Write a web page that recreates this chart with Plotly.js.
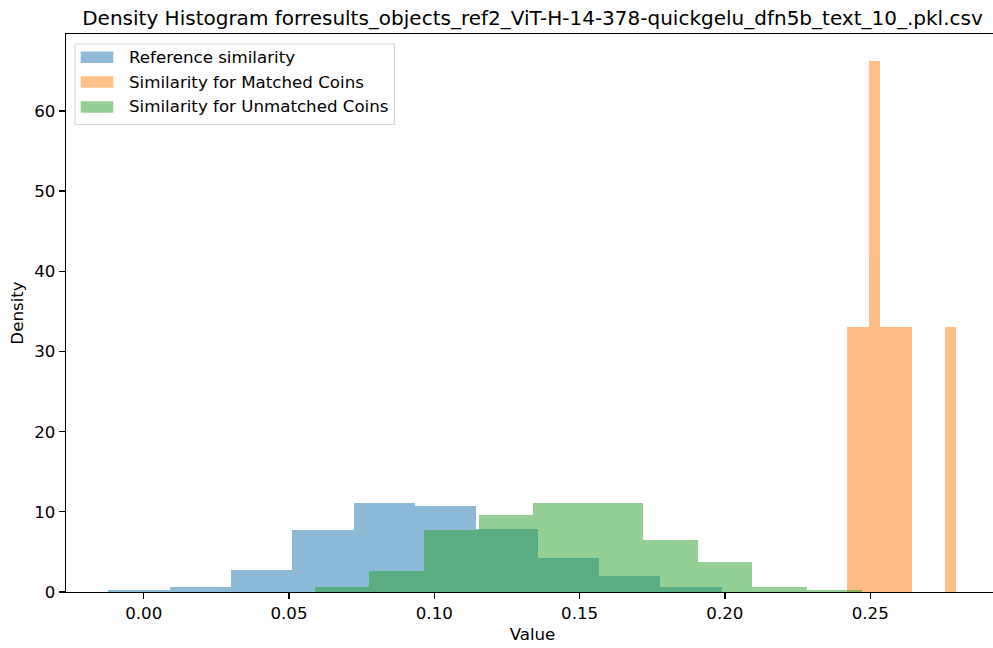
<!DOCTYPE html>
<html>
<head>
<meta charset="utf-8">
<script src="https://cdn.plot.ly/plotly-3.0.1.min.js"></script>
<style>html,body{margin:0;padding:0;background:#fff;overflow:hidden;}#chart{width:1000px;height:648px;}</style>
</head>
<body>
<div id="chart"></div>
<script>
// Bin edges (value axis) and densities
const refEdges = [-0.01218, 0.00893, 0.03004, 0.05115, 0.07225, 0.09336, 0.11447, 0.13557, 0.15668, 0.17779, 0.19890];
const refDensity = [0.25, 0.66, 2.75, 7.70, 11.15, 10.75, 7.85, 4.25, 2.02, 0.66];

const matchedEdges = [0.24191, 0.24568, 0.24945, 0.25323, 0.25700, 0.26077, 0.26454, 0.26831, 0.27209, 0.27586, 0.27963];
const matchedDensity = [33.1, 33.1, 66.2, 33.1, 33.1, 33.1, 0, 0, 0, 33.1];

const unmatchedEdges = [0.05884, 0.07766, 0.09649, 0.11531, 0.13413, 0.15296, 0.17178, 0.19060, 0.20943, 0.22825, 0.24707];
const unmatchedDensity = [0.66, 2.65, 7.70, 9.55, 11.15, 11.15, 6.50, 3.72, 0.66, 0.25];

const seriesNames = ["Reference similarity", "Similarity for Matched Coins", "Similarity for Unmatched Coins"];
const seriesColors = ["#1f77b4", "#ff7f0e", "#2ca02c"];
const xTickVals = [0, 0.05, 0.10, 0.15, 0.20, 0.25];
const xTickText = ["0.00", "0.05", "0.10", "0.15", "0.20", "0.25"];
const yTickVals = [0, 10, 20, 30, 40, 50, 60];

function histTrace(edges, dens, name, color) {
  const x = [], w = [];
  for (let i = 0; i < dens.length; i++) {
    x.push((edges[i] + edges[i + 1]) / 2);
    w.push(edges[i + 1] - edges[i]);
  }
  return {
    type: "bar", x: x, y: dens, width: w, name: name,
    marker: {color: color, line: {width: 0}}, opacity: 0.5,
    hoverinfo: "x+y", showlegend: false
  };
}

const data = [
  histTrace(refEdges, refDensity, seriesNames[0], seriesColors[0]),
  histTrace(matchedEdges, matchedDensity, seriesNames[1], seriesColors[1]),
  histTrace(unmatchedEdges, unmatchedDensity, seriesNames[2], seriesColors[2])
];

// plot area geometry in pixels (for legend placement)
const W = 1000, H = 648, ML = 66, MR = 1, MT = 34, MB = 56;
const PW = W - ML - MR, PH = H - MT - MB;
const px = v => (v - ML) / PW;
const py = v => (H - MB - v) / PH;

function hexToRgba(h, a) {
  const n = parseInt(h.slice(1), 16);
  return `rgba(${(n >> 16) & 255},${(n >> 8) & 255},${n & 255},${a})`;
}

const font = "DejaVu Sans, sans-serif";
const shapes = [{
  type: "rect", xref: "paper", yref: "paper",
  x0: px(75), x1: px(394.5), y0: py(44), y1: py(124.5),
  line: {color: "#d6d6d6", width: 1.2}, fillcolor: "rgba(255,255,255,0.8)", layer: "above"
}];
const annotations = [];
const rowY = [57.3, 82, 107];
seriesNames.forEach((nm, i) => {
  shapes.push({
    type: "rect", xref: "paper", yref: "paper",
    x0: px(80.7), x1: px(113.3), y0: py(rowY[i] - 5.8), y1: py(rowY[i] + 5.8),
    line: {width: 0}, fillcolor: hexToRgba(seriesColors[i], 0.5), layer: "above"
  });
  annotations.push({
    xref: "paper", yref: "paper", x: px(127), y: py(rowY[i]),
    xanchor: "left", yanchor: "middle", showarrow: false, text: nm,
    font: {family: font, size: 16.67, color: "#000"}
  });
});

const layout = {
  width: W, height: H,
  margin: {l: ML, r: MR, t: MT, b: MB},
  paper_bgcolor: "#fff", plot_bgcolor: "#fff",
  barmode: "overlay", bargap: 0,
  font: {family: font, size: 16.67, color: "#000"},
  title: {
    text: "Density Histogram forresults_objects_ref2_ViT-H-14-378-quickgelu_dfn5b_text_10_.pkl.csv",
    font: {family: font, size: 20, color: "#000"},
    x: 0.5, xref: "paper", xanchor: "center",
    y: 1 - 18 / 648, yref: "container", yanchor: "middle"
  },
  xaxis: {
    range: [-0.02674, 0.29432], autorange: false,
    tickvals: xTickVals, ticktext: xTickText,
    ticks: "outside", ticklen: 6, tickwidth: 1.3, tickcolor: "#000",
    showline: true, linecolor: "#000", linewidth: 1.3, mirror: true,
    showgrid: false, zeroline: false,
    tickfont: {family: font, size: 16.67, color: "#000"},
    title: {text: "Value", font: {family: font, size: 16.67, color: "#000"}, standoff: 6},
    automargin: false
  },
  yaxis: {
    range: [0, 69.6], autorange: false,
    tickvals: yTickVals,
    ticks: "outside", ticklen: 6, tickwidth: 1.3, tickcolor: "#000",
    showline: true, linecolor: "#000", linewidth: 1.3, mirror: true,
    showgrid: false, zeroline: false,
    tickfont: {family: font, size: 16.67, color: "#000"},
    title: {text: "Density", font: {family: font, size: 16.67, color: "#000"}, standoff: 6},
    automargin: false
  },
  showlegend: false,
  shapes: shapes,
  annotations: annotations
};

Plotly.newPlot("chart", data, layout, {displayModeBar: false, staticPlot: true});
</script>
</body>
</html>
